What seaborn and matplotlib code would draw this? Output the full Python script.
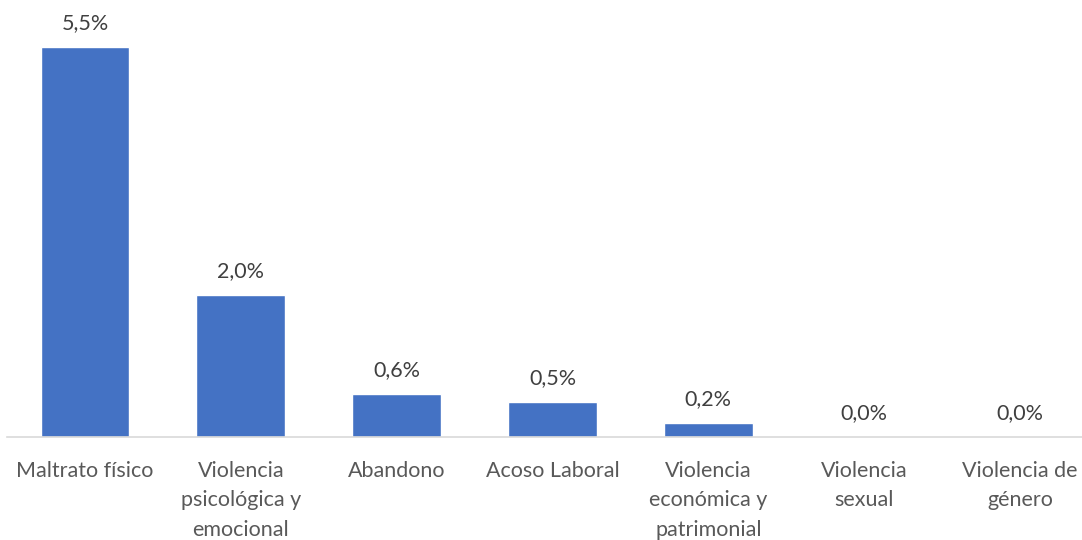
import matplotlib
matplotlib.use("Agg")
import matplotlib.pyplot as plt
import seaborn as sns
import pandas as pd

categories = ["Maltrato físico", "Violencia\npsicológica y\nemocional", "Abandono",
              "Acoso Laboral", "Violencia\neconómica y\npatrimonial", "Violencia\nsexual",
              "Violencia de\ngénero"]
values = [5.5, 2.0, 0.6, 0.5, 0.2, 0.0, 0.0]
labels = ["5,5%", "2,0%", "0,6%", "0,5%", "0,2%", "0,0%", "0,0%"]

df = pd.DataFrame({"cat": categories, "val": values})

sns.set_theme(style="white")
plt.rcParams['font.family'] = ['Lato', 'DejaVu Sans']

fig = plt.figure(figsize=(10.82, 5.40), dpi=100)
W, H = 1082, 540
left, right = 7, 1098
bottom_px = 437
ymax_val = 5.5
top_px = 47
ax = fig.add_axes([left / W, 1 - bottom_px / H, (right - left) / W, (bottom_px - top_px) / H])

sns.barplot(data=df, x="cat", y="val", color="#4472C4", width=0.57, saturation=1, ax=ax)
ax.set_ylim(0, ymax_val)
ax.set_xlim(-0.5, 6.5)

for i, (v, lab) in enumerate(zip(values, labels)):
    ax.annotate(lab, (i, v), xytext=(0, 10), textcoords="offset points",
                ha="center", va="bottom", fontsize=15.5, color="#404040")

ax.set_xlabel("")
ax.set_ylabel("")
ax.set_yticks([])
ax.tick_params(axis="x", length=0, pad=17, labelsize=15.5, labelcolor="#595959")
for lab in ax.get_xticklabels():
    lab.set_linespacing(1.6)
for s in ["top", "right", "left"]:
    ax.spines[s].set_visible(False)
ax.spines["bottom"].set_color("#D9D9D9")
ax.spines["bottom"].set_linewidth(1.2)
ax.patch.set_alpha(0)

fig.savefig("out.png", dpi=100)
